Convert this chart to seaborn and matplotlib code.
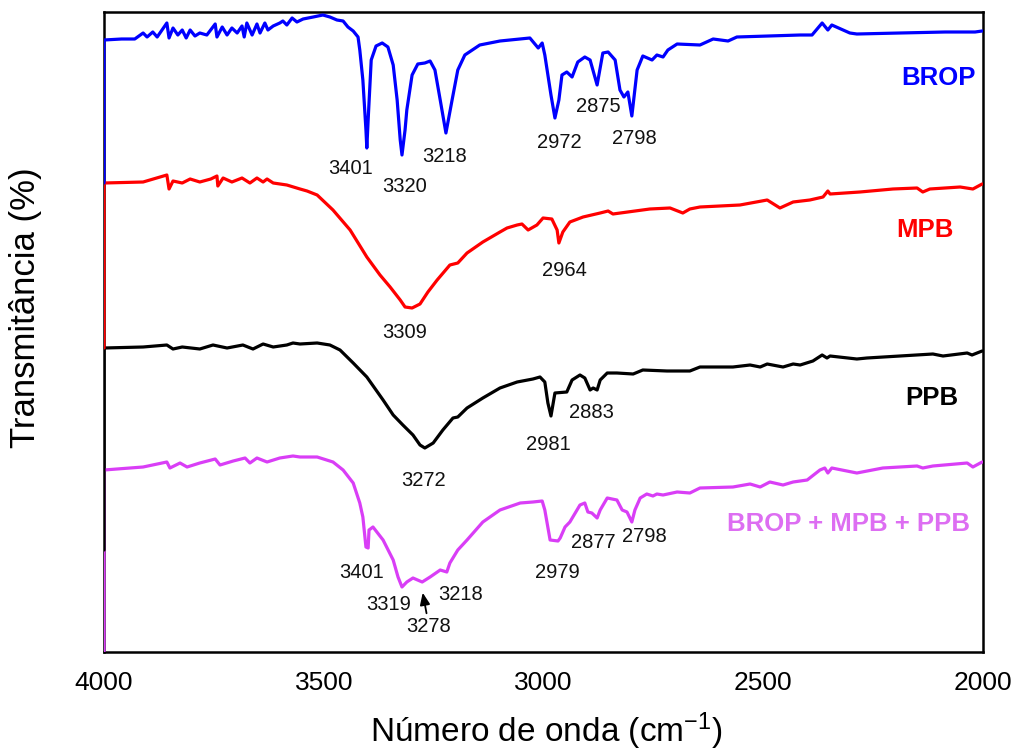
import numpy as np
import pandas as pd
import matplotlib
matplotlib.use("Agg")
import matplotlib.pyplot as plt
import seaborn as sns

# ---------------- data (wavenumber cm^-1, transmittance arbitrary units) ----------------
brop_wn = [4000, 4000, 3960, 3930, 3911, 3902, 3889, 3879, 3868, 3857, 3852, 3843, 3832, 3822, 3813,
           3804, 3793, 3782, 3766, 3747, 3743, 3731, 3720, 3709, 3697, 3686, 3681, 3675, 3663, 3652,
           3645, 3634, 3627, 3615, 3600, 3593, 3584, 3572, 3561, 3547, 3524, 3502, 3486, 3470, 3456,
           3445, 3433, 3422, 3418, 3411, 3404, 3402, 3399, 3392, 3381, 3367, 3354, 3342, 3333, 3326,
           3322, 3315, 3311, 3299, 3286, 3270, 3258, 3247, 3235, 3222, 3208, 3195, 3179, 3145, 3099,
           3031, 3012, 3003, 2997, 2983, 2974, 2965, 2958, 2947, 2935, 2922, 2906, 2894, 2878, 2865,
           2853, 2837, 2826, 2817, 2808, 2799, 2787, 2774, 2753, 2742, 2728, 2717, 2696, 2644, 2614,
           2580, 2560, 2416, 2389, 2366, 2353, 2344, 2303, 2287, 2189, 2086, 2018, 2002]
brop_py = [183, 40, 39, 39, 33, 37, 32, 37, 30, 23, 38, 28, 35, 30, 38,
           30, 36, 33, 35, 24, 37, 27, 35, 28, 33, 26, 37, 23, 35, 24,
           33, 23, 30, 26, 23, 21, 25, 18, 22, 19, 17, 15, 17, 20, 21,
           27, 31, 37, 50, 80, 130, 148, 120, 60, 46, 43, 47, 65, 100, 140,
           155, 130, 110, 75, 64, 63, 61, 70, 100, 133, 100, 70, 55, 45, 41,
           38, 48, 43, 55, 95, 118, 100, 75, 72, 77, 62, 57, 60, 85, 53,
           52, 60, 90, 97, 92, 116, 70, 56, 60, 55, 57, 50, 44, 45, 39,
           41, 37, 35, 35, 23, 30, 25, 33, 34, 33, 32, 32, 31]

mpb_wn = [4000, 4000, 3911, 3857, 3852, 3843, 3822, 3804, 3782, 3757, 3743, 3741, 3729, 3709, 3686,
          3668, 3652, 3638, 3629, 3615, 3584, 3554, 3538, 3515, 3479, 3440, 3402, 3372, 3349, 3326,
          3315, 3299, 3281, 3263, 3242, 3213, 3195, 3174, 3138, 3099, 3083, 3060, 3049, 3035, 3015,
          3001, 2981, 2969, 2965, 2956, 2940, 2910, 2871, 2853, 2842, 2758, 2712, 2683, 2667, 2644,
          2553, 2491, 2462, 2432, 2394, 2364, 2353, 2348, 2280, 2205, 2150, 2137, 2121, 2052, 2023, 2002]
mpb_py = [348, 183, 182, 175, 189, 181, 183, 179, 182, 179, 176, 186, 178, 182, 178,
          183, 178, 182, 179, 183, 185, 189, 191, 195, 210, 230, 257, 275, 287, 300,
          307, 308, 304, 292, 280, 265, 263, 253, 242, 232, 228, 225, 224, 230, 225,
          218, 219, 230, 243, 232, 222, 217, 213, 211, 214, 209, 208, 213, 209, 207,
          205, 200, 208, 202, 200, 197, 191, 194, 192, 189, 188, 192, 189, 187, 189, 184]

ppb_wn = [4000, 4000, 3911, 3857, 3843, 3822, 3782, 3752, 3720, 3684, 3661, 3638, 3615, 3584, 3570,
          3554, 3515, 3486, 3463, 3433, 3402, 3365, 3342, 3320, 3297, 3281, 3270, 3251, 3229, 3206,
          3195, 3174, 3138, 3099, 3060, 3024, 3008, 2997, 2990, 2983, 2974, 2947, 2935, 2917, 2906,
          2894, 2887, 2878, 2871, 2855, 2833, 2796, 2774, 2719, 2667, 2644, 2569, 2530, 2507, 2491,
          2455, 2432, 2416, 2387, 2366, 2355, 2348, 2287, 2264, 2189, 2114, 2091, 2036, 2025, 2002]
ppb_py = [550, 348, 347, 345, 349, 347, 349, 345, 348, 345, 349, 344, 347, 345, 343,
          344, 343, 345, 350, 363, 377, 400, 415, 425, 435, 445, 448, 443, 430, 418,
          417, 408, 398, 388, 382, 379, 377, 382, 403, 416, 393, 392, 380, 375, 378,
          390, 388, 390, 380, 373, 373, 374, 370, 371, 371, 367, 367, 365, 367, 364,
          367, 364, 365, 361, 355, 358, 356, 359, 358, 356, 354, 356, 353, 355, 351]

mix_wn = [4000, 4000, 3911, 3857, 3850, 3827, 3811, 3782, 3747, 3736, 3706, 3679, 3668, 3652, 3629,
          3600, 3570, 3554, 3515, 3479, 3456, 3433, 3418, 3411, 3404, 3399, 3397, 3388, 3365, 3342,
          3331, 3322, 3311, 3297, 3276, 3258, 3235, 3220, 3213, 3195, 3174, 3138, 3099, 3053, 3024,
          3003, 2997, 2985, 2967, 2962, 2951, 2940, 2917, 2906, 2899, 2890, 2878, 2871, 2855, 2833,
          2821, 2810, 2799, 2792, 2780, 2765, 2751, 2742, 2728, 2696, 2667, 2644, 2569, 2530, 2507,
          2485, 2455, 2432, 2400, 2371, 2360, 2353, 2344, 2287, 2228, 2150, 2137, 2114, 2036, 2023, 2002]
mix_py = [652, 470, 467, 462, 468, 463, 467, 463, 459, 465, 461, 458, 463, 458, 462,
          458, 456, 457, 457, 462, 470, 483, 503, 517, 547, 548, 530, 527, 540, 560,
          577, 587, 582, 578, 582, 577, 570, 572, 563, 550, 540, 522, 510, 503, 502,
          501, 510, 540, 541, 538, 527, 522, 505, 503, 512, 513, 518, 510, 498, 500,
          510, 512, 522, 510, 498, 494, 496, 494, 495, 492, 493, 488, 487, 484, 487,
          482, 485, 482, 480, 470, 468, 473, 468, 473, 468, 466, 468, 466, 463, 467, 462]

# peak annotations: (text, wavenumber, level)
brop_peaks = ["3401", "3320", "3218", "2972", "2875", "2798"]
brop_peak_x = [3438, 3317, 3226, 2965, 2876, 2794]
brop_peak_y = [168, 187, 157, 143, 107, 139]
mpb_peaks = ["3309", "2964"]
mpb_peak_x = [3317, 2953]
mpb_peak_y = [333, 270]
ppb_peaks = ["3272", "2981", "2883"]
ppb_peak_x = [3272, 2990, 2890]
ppb_peak_y = [480, 445, 412]
mix_peaks = ["3401", "3319", "3278", "3218", "2979", "2877", "2798"]
mix_peak_x = [3413, 3352, 3261, 3188, 2969, 2887, 2771]
mix_peak_y = [572, 604, 627, 594, 573, 543, 537]

names = ["BROP", "MPB", "PPB", "BROP + MPB + PPB"]
name_x = [2102, 2132, 2116, 2305]
name_y = [78, 230, 398, 524]
line_colors = ["#0000FF", "#FF0000", "#000000", "#D93EF6"]
name_colors = ["#0000FF", "#FF0000", "#000000", "#DD6EF2"]

xticks = [4000, 3500, 3000, 2500, 2000]

# ---------------- figure ----------------
sns.set_theme(style="white")
plt.rcParams["font.family"] = ["Liberation Sans", "DejaVu Sans"]
plt.rcParams["mathtext.fontset"] = "custom"
plt.rcParams["mathtext.rm"] = "Liberation Sans"
plt.rcParams["mathtext.default"] = "regular"

fig = plt.figure(figsize=(10.18, 7.53), dpi=100)
ax = fig.add_axes([104 / 1018, 1 - 652 / 753, 879 / 1018, 640 / 753])

TOP = 652  # pixel-like baseline conversion for transmittance levels


def level(py):
    return [TOP - v for v in py]


series = [(mix_wn, mix_py, 3), (ppb_wn, ppb_py, 4), (mpb_wn, mpb_py, 5), (brop_wn, brop_py, 6)]
colors_by_z = {3: line_colors[3], 4: line_colors[2], 5: line_colors[1], 6: line_colors[0]}
for wn, py, z in series:
    df = pd.DataFrame({"wn": wn, "T": level(py)})
    sns.lineplot(data=df, x="wn", y="T", sort=False, estimator=None, ax=ax,
                 color=colors_by_z[z], linewidth=2.3, zorder=z,
                 solid_joinstyle="round", solid_capstyle="round")

ax.set_xlim(4000, 2000)
ax.set_ylim(0, 640)
ax.set_xticks(xticks)
ax.set_xticklabels([str(t) for t in xticks])
ax.set_yticks([])
ax.tick_params(axis="x", length=0, pad=14, labelsize=19, colors="black")

for s in ax.spines.values():
    s.set_color("black")
    s.set_linewidth(1.8)
    s.set_visible(True)

ax.set_xlabel("Número de onda (cm$^{-1}$)", fontsize=24, color="black")
ax.set_ylabel("Transmitância (%)", fontsize=25, color="black")
ax.xaxis.set_label_coords(0.503, -0.092)
ax.yaxis.set_label_coords(-0.07, 0.538)

peak_fs = 14.5
for labels, xs, ys in [(brop_peaks, brop_peak_x, brop_peak_y), (mpb_peaks, mpb_peak_x, mpb_peak_y),
                       (ppb_peaks, ppb_peak_x, ppb_peak_y), (mix_peaks, mix_peak_x, mix_peak_y)]:
    for t, x, y in zip(labels, xs, ys):
        ax.text(x, TOP - y, t, fontsize=peak_fs, ha="center", va="center", color="#111111", zorder=10)

# arrow pointing to the 3278 shoulder
ax.annotate("", xy=(3276, TOP - 590), xytext=(3265, TOP - 616),
            arrowprops=dict(arrowstyle="-|>,head_length=0.6,head_width=0.25", color="black", lw=1.3),
            zorder=10)

for t, x, y, c in zip(names, name_x, name_y, name_colors):
    ax.text(x, TOP - y, t, fontsize=18.5, fontweight="bold", ha="center", va="center", color=c, zorder=10)

fig.savefig("out.png", dpi=100)
